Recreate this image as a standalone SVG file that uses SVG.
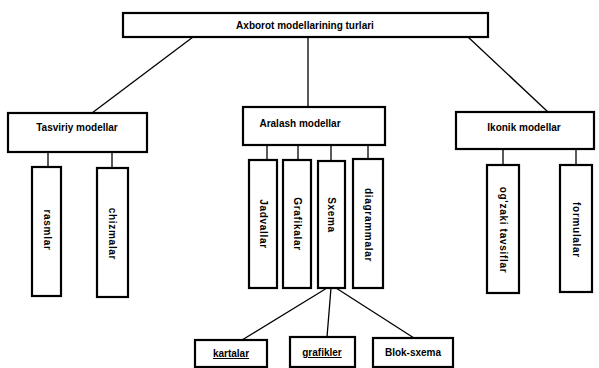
<svg xmlns="http://www.w3.org/2000/svg" width="599" height="368" viewBox="0 0 599 368">
<style>
  .box { fill: #fff; stroke: #000; stroke-width: 2.2; }
  .lbl { font-family: "Liberation Sans", Arial, sans-serif; font-size: 10px; font-weight: bold; fill: #000; text-anchor: middle; }
  .vt { font-family: "Liberation Sans", Arial, sans-serif; font-size: 10px; font-weight: bold; fill: #000; text-anchor: middle; dominant-baseline: central; letter-spacing: 0.7px; }
  .conn line { stroke: #000; stroke-width: 1.3; }
</style>
<rect width="599" height="368" fill="#fff"/>
<g class="conn">
  <line x1="193" y1="37" x2="92" y2="113"/>
  <line x1="308" y1="37" x2="308" y2="107"/>
  <line x1="468" y1="37" x2="548" y2="112"/>
  <line x1="48" y1="152" x2="48" y2="167"/>
  <line x1="112" y1="152" x2="112" y2="167"/>
  <line x1="267" y1="145" x2="267" y2="160"/>
  <line x1="298" y1="145" x2="298" y2="160"/>
  <line x1="331" y1="145" x2="331" y2="160"/>
  <line x1="368" y1="145" x2="368" y2="159"/>
  <line x1="503" y1="149" x2="503" y2="165"/>
  <line x1="576" y1="149" x2="576" y2="165"/>
  <line x1="327" y1="288" x2="242" y2="340"/>
  <line x1="331" y1="288" x2="327" y2="337"/>
  <line x1="336" y1="288" x2="414" y2="338"/>
</g>
<g id="root">
  <rect class="box" x="123" y="13" width="365" height="24"/>
  <text class="lbl" x="305" y="28.5">Axborot modellarining turlari</text>
</g>
<g id="tasviriy">
  <rect class="box" x="8" y="113" width="139" height="39"/>
  <text class="lbl" x="77" y="131">Tasviriy modellar</text>
</g>
<g id="aralash">
  <rect class="box" x="243" y="107" width="142" height="38"/>
  <text class="lbl" x="300" y="127">Aralash modellar</text>
</g>
<g id="ikonik">
  <rect class="box" x="456" y="112" width="138" height="37"/>
  <text class="lbl" x="524" y="131">Ikonik modellar</text>
</g>
<g id="rasmlar">
  <rect class="box" x="32" y="167" width="29" height="129"/>
  <text class="vt" transform="translate(47,230) rotate(90)">rasmlar</text>
</g>
<g id="chizmalar">
  <rect class="box" x="97" y="168" width="31" height="129"/>
  <text class="vt" transform="translate(112,234) rotate(90)">chizmalar</text>
</g>
<g id="jadvallar">
  <rect class="box" x="249" y="160" width="28" height="128"/>
  <text class="vt" transform="translate(263,224) rotate(90)">Jadvallar</text>
</g>
<g id="grafikalar">
  <rect class="box" x="283" y="160" width="28" height="128"/>
  <text class="vt" transform="translate(297,224) rotate(90)">Grafikalar</text>
</g>
<g id="sxema">
  <rect class="box" x="318" y="161" width="27" height="127"/>
  <text class="vt" transform="translate(331.5,215) rotate(90)">Sxema</text>
</g>
<g id="diagrammalar">
  <rect class="box" x="353" y="159" width="30" height="129"/>
  <text class="vt" transform="translate(368,225) rotate(90)">diagrammalar</text>
</g>
<g id="ogzaki">
  <rect class="box" x="487" y="165" width="32" height="128"/>
  <text class="vt" transform="translate(503,230) rotate(90)">og'zaki tavsiflar</text>
</g>
<g id="formulalar">
  <rect class="box" x="560" y="165" width="32" height="127"/>
  <text class="vt" transform="translate(576,230) rotate(90)">formulalar</text>
</g>
<g id="kartalar">
  <rect class="box" x="195" y="340" width="72" height="27"/>
  <text class="lbl" x="231" y="357" text-decoration="underline">kartalar</text>
</g>
<g id="grafikler">
  <rect class="box" x="290" y="337" width="65" height="30"/>
  <text class="lbl" x="322" y="356" text-decoration="underline">grafikler</text>
</g>
<g id="bloksxema">
  <rect class="box" x="373" y="338" width="80" height="29"/>
  <text class="lbl" x="413" y="356">Blok-sxema</text>
</g>
</svg>
